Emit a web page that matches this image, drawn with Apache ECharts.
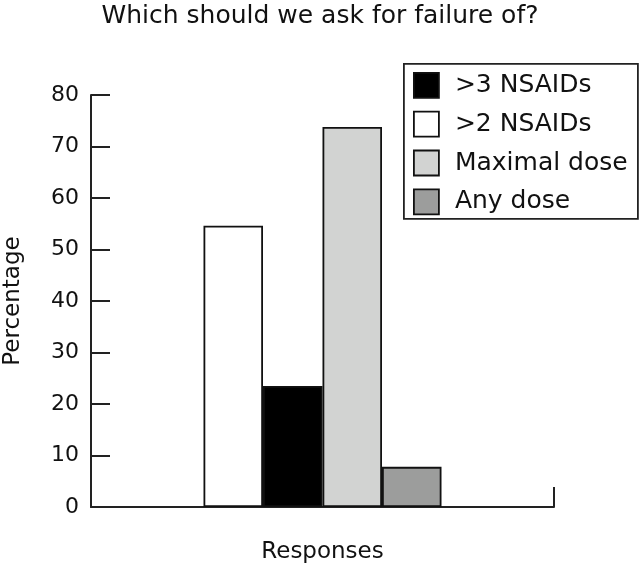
<!DOCTYPE html>
<html>
<head>
<meta charset="utf-8">
<script src="https://cdn.jsdelivr.net/npm/echarts@6/dist/echarts.min.js"></script>
<style>html,body{margin:0;padding:0;background:#fff}#c{width:640px;height:566px}</style>
</head>
<body>
<div id="c"></div>
<script>
const categories = ['Responses'];
const seriesNames = ['>2 NSAIDs', '>3 NSAIDs', 'Maximal dose', 'Any dose'];
const seriesValues = [54.6, 23.5, 73.8, 7.8];
const seriesColors = ['#ffffff', '#000000', '#d2d3d2', '#9c9d9c'];
const legendOrder = ['>3 NSAIDs', '>2 NSAIDs', 'Maximal dose', 'Any dose'];
const yMin = 0, yMax = 80, yStep = 10;

const FONT = 'DejaVu Sans';
const chart = echarts.init(document.getElementById('c'));
chart.setOption({
  animation: false,
  backgroundColor: '#fff',
  title: {
    text: 'Which should we ask for failure of?',
    left: 'center', top: -1,
    textStyle: { fontFamily: FONT, fontSize: 25, fontWeight: 'normal', color: '#111' }
  },
  graphic: [{
    type: 'rect', left: 403, top: 63, z: 0,
    shape: { width: 234, height: 155 },
    style: { fill: '#fff', stroke: '#222', lineWidth: 1.8 }
  }],
  legend: {
    orient: 'vertical', left: 403, top: 63,
    padding: [9, 10, 10, 10],
    itemWidth: 25, itemHeight: 25, itemGap: 12,
    icon: 'rect',
    data: legendOrder,
    z: 5,
    textStyle: { fontFamily: FONT, fontSize: 25, color: '#111', padding: [0, 0, 0, 11] },
    itemStyle: { borderColor: '#111', borderWidth: 1.8 }
  },
  grid: { left: 91, right: 86, top: 95, bottom: 59, containLabel: false, outerBoundsMode: 'none' },
  xAxis: {
    type: 'category', data: categories,
    axisLine: { show: true, lineStyle: { color: '#222', width: 2 } },
    axisTick: { show: true, inside: true, length: 20, alignWithLabel: false, lineStyle: { color: '#222', width: 2 } },
    axisLabel: { margin: 34, fontFamily: FONT, fontSize: 23, color: '#111' },
    splitLine: { show: false }
  },
  yAxis: {
    type: 'value', min: yMin, max: yMax, interval: yStep,
    name: 'Percentage', nameLocation: 'middle', nameRotate: 90, nameGap: 66,
    nameTextStyle: { fontFamily: FONT, fontSize: 23, color: '#111' },
    axisLine: { show: true, lineStyle: { color: '#222', width: 2 } },
    axisTick: { show: true, inside: true, length: 19, lineStyle: { color: '#222', width: 2 } },
    axisLabel: { margin: 12, fontFamily: FONT, fontSize: 22, color: '#111' },
    splitLine: { show: false }
  },
  series: seriesNames.map((n, i) => ({
    name: n, type: 'bar', data: [seriesValues[i]],
    barWidth: 59.5, barGap: '0%',
    itemStyle: { color: seriesColors[i], borderColor: '#111', borderWidth: 1.8 }
  }))
});
</script>
</body>
</html>
